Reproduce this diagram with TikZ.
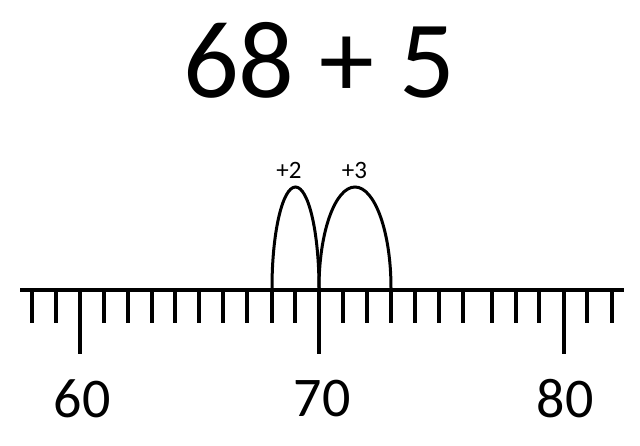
\documentclass[tikz,border=0pt]{standalone}
\usepackage{fontspec}
\setmainfont{Carlito}
\begin{document}
\begin{tikzpicture}[x=1pt,y=-1pt,
  axis/.style={line width=4pt},
  tickmark/.style={line width=4pt},
  jump/.style={line width=3pt},
  titletext/.style={inner sep=0pt,font=\fontsize{110}{120}\selectfont},
  numtext/.style={inner sep=0pt,font=\fontsize{56}{64}\selectfont},
  jumptext/.style={inner sep=0pt,font=\fontsize{25}{29}\selectfont}]
\useasboundingbox (0,0) rectangle (640,445);
\fill[white] (0,0) rectangle (640,445);
\node[titletext] (title) at (319,60) {68 + 5};
\coordinate (L) at (20,290);
\coordinate (R) at (624,290);
\draw[axis] (L) -- (R);
\foreach \v/\x in {58/32,59/56,60/80,61/104,62/128,63/152,64/175,65/199,66/223,67/247,68/272,69/295,70/319,71/343,72/367,73/391,74/415,75/439,76/463,77/492,78/516,79/539,80/564,81/587,82/612}
  \coordinate (t\v) at (\x,290);
\foreach \v in {58,59,61,62,63,64,65,66,67,68,69,71,72,73,74,75,76,77,78,79,81,82}
  \draw[tickmark] (t\v) -- ++(0,33);
\foreach \v in {60,70,80}
  \draw[tickmark] (t\v) -- ++(0,64);
\draw[jump] ([yshift=2pt]t68) arc[start angle=180,end angle=0,x radius=23.5pt,y radius=101pt];
\draw[jump] ([yshift=2pt]t70) arc[start angle=180,end angle=0,x radius=36pt,y radius=101pt];
\node[jumptext] (j2) at (289,170) {+2};
\node[jumptext] (j3) at (354.5,170) {+3};
\node[numtext] (n60) at (82,399) {60};
\node[numtext] (n70) at (322,399) {70};
\node[numtext] (n80) at (565,399) {80};
\end{tikzpicture}
\end{document}
